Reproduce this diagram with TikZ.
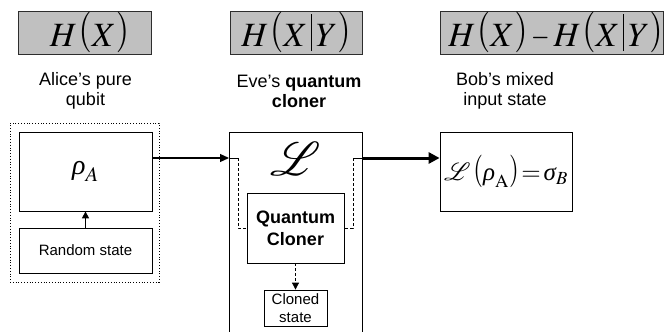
\documentclass[tikz,border=0pt]{standalone}
\usepackage{graphicx}
\usepackage{mathptmx}
\usepackage{mathrsfs}
\usepackage[no-math]{fontspec}
\setmainfont{Liberation Sans}
\newfontfamily\tms{Liberation Serif}
\usetikzlibrary{arrows.meta}
\definecolor{boxgray}{RGB}{192,192,192}
\definecolor{edgegray}{RGB}{45,45,45}
% tall parenthesis: #1 glyph, #2 raise, #3 vertical scale
\newcommand{\tallp}[3]{\raisebox{#2}{\scalebox{1}[#3]{$#1$}}}
\newcommand{\LPa}{\mathopen{\mkern1mu\tallp{(}{0.1em}{1.2}}}
\newcommand{\RPa}{\mathclose{\tallp{)}{0.1em}{1.2}}}
\newcommand{\VBa}{\mathord{\mkern2mu\rule[-0.15em]{0.9pt}{1.09em}\mkern2mu}}
\newcommand{\MNa}{\mathord{\mkern2mu\scalebox{0.7}[1]{$-$}\mkern2mu}}
\newcommand{\LPb}{\mathopen{\tallp{(}{0.05em}{1.3}}}
\newcommand{\RPb}{\mathclose{\tallp{)}{0.05em}{1.3}}}
\newcommand{\grho}{\mbox{\tms\itshape ρ}}
\newcommand{\gsig}{\mbox{\tms\itshape σ}}
\newcommand{\scrL}[1]{\mbox{\scalebox{#1}{\fontsize{24.88}{26}\selectfont$\mathscr{L}$}}}
\begin{document}
\begin{tikzpicture}[x=1pt,y=-1pt,
  hbox/.style={draw=edgegray, fill=boxgray, line width=1pt, inner sep=0pt, minimum height=43pt},
  plainbox/.style={draw=black, line width=0.8pt, inner sep=0pt, align=center},
  lbl/.style={align=center, inner sep=0pt, font=\fontsize{18}{20}\selectfont},
  arr/.style={-{Triangle[length=9pt,width=8pt]}, line width=1.2pt},
  smallarr/.style={-{Triangle[length=7pt,width=7pt]}, line width=1.2pt},
  thickarr/.style={-{Triangle[length=11pt,width=11pt]}, line width=3pt},
  dashline/.style={dash pattern=on 3pt off 2pt, line width=0.8pt},
  dasharr/.style={dash pattern=on 3pt off 2pt, line width=0.8pt, -{Triangle[length=7pt,width=7pt]}},
  bigmath/.style={font=\fontsize{34}{38}\selectfont}
]
\useasboundingbox (0,0) rectangle (665,332);

% top entropy boxes
\node[hbox, bigmath, minimum width=133pt] (hx) at (84.5,32.5) {\hspace*{10pt}$H\LPa X\RPa$};
\node[hbox, bigmath, minimum width=132pt] (hxy) at (296,32.5) {$H\LPa X\VBa Y\RPa$};
\node[hbox, bigmath, minimum width=223pt] (hdiff) at (551.5,32.5) {\hspace*{8pt}$H\LPa X\RPa\MNa H\LPa X\VBa Y\RPa$};

% labels
\node[lbl] (alab) at (85.5,91) {Alice's pure\\qubit};
\node[lbl] (elab) at (299,91) {Eve's \textbf{quantum}\\\textbf{cloner}};
\node[lbl] (blab) at (505,91) {Bob's mixed\\input state};

% Alice
\node[draw=black, dotted, line width=0.8pt, minimum width=149pt, minimum height=159pt, inner sep=0pt] (agrp) at (84.5,202.5) {};
\node[plainbox, minimum width=133pt, minimum height=79pt, font=\fontsize{28}{30}\selectfont] (rho) at (85.5,171.5) {$\grho_A$};
\node[plainbox, minimum width=133pt, minimum height=45pt, font=\fontsize{15}{18}\selectfont] (rand) at (85.5,250.5) {Random state};
\draw[smallarr] (rand.north) -- (rho.south);

% Eve's big box (open at the bottom)
\coordinate (Lbl) at (229,340);
\coordinate (Ltl) at (229,132);
\coordinate (Ltr) at (362,132);
\coordinate (Lbr) at (362,340);
\draw[line width=0.8pt] (Lbl) -- (Ltl) -- (Ltr) -- (Lbr);
\node[inner sep=0pt] (Lsym) at (296,159) {\scrL{1.9}};
\coordinate (Lin) at (229,158);
\coordinate (Lout) at (362,158);
\node[plainbox, minimum width=97pt, minimum height=70pt, font=\bfseries\fontsize{18}{22}\selectfont] (qc) at (295.5,228) {Quantum\\Cloner};
\node[plainbox, minimum width=63pt, minimum height=36pt, font=\fontsize{15}{18}\selectfont] (clone) at (295.5,308) {Cloned\\state};
\draw[dasharr] (qc.south) -- (clone.north);

% brackets
\draw[line width=0.8pt] (Lin) -- ++(9,0) coordinate (lb1);
\draw[dashline] (lb1) |- (qc.west);
\draw[line width=0.8pt] (Lout) -- ++(-9,0) coordinate (rb1);
\draw[dashline] (rb1) |- (qc.east);

% Bob
\node[plainbox, minimum width=132pt, minimum height=79pt, font=\fontsize{25}{28}\selectfont] (out) at (506,171.5)
  {$\scrL{1.0}\mkern2mu\LPb\grho_{\mathrm{A}}\RPb\mkern2mu{=}\mkern2mu\gsig_B$};

% main arrows
\draw[arr] (rho.east |- Lin) -- (Lin);
\draw[thickarr] (Lout) -- (out.west |- Lout);
\end{tikzpicture}
\end{document}
